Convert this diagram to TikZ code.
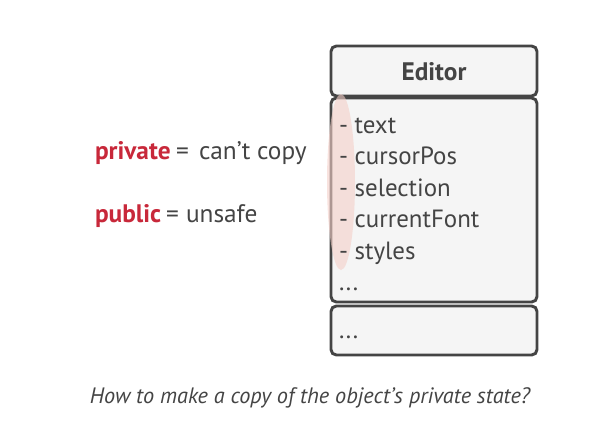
\documentclass[tikz,border=0pt]{standalone}
\usepackage{fontspec}
\setmainfont{PT Sans}
\definecolor{linegray}{HTML}{444444}
\definecolor{boxfill}{HTML}{F5F5F5}
\definecolor{hotred}{HTML}{C8283A}
\definecolor{blush}{HTML}{F4CFC8}
\begin{document}
\begin{tikzpicture}[x=0.75pt, y=-0.75pt]
\tikzset{inner sep=0pt, outer sep=0pt}
\tikzset{part/.style={draw=linegray, fill=boxfill, line width=2.2pt, rounded corners=4pt}}
\tikzset{field/.style={anchor=base west, text=linegray, font=\fontsize{18.7}{22}\selectfont}}
\tikzset{rule/.style={anchor=base west, text=linegray, font=\fontsize{19}{22}\selectfont}}

\useasboundingbox (0,0) rectangle (611,433);

% class box
\draw [part] (331,46) rectangle (537,96);
\draw [part] (331,98) rectangle (537,302);
\draw [part] (331,306) rectangle (537,355);

\node [anchor=base, text=linegray, font=\fontsize{19}{22}\selectfont\bfseries] (title) at (434,80) {Editor};

% private fields marker
\fill [blush, opacity=0.6] (341,182) ellipse [x radius=14, y radius=88];

\node [field] (f1) at (339,133) {- text};
\node [field] (f2) at (339,164.5) {- cursorPos};
\node [field] (f3) at (339,196) {- selection};
\node [field] (f4) at (339,227.5) {- currentFont};
\node [field] (f5) at (339,259) {- styles};
\node [field] (f6) at (339,290) {...};
\node [field] (m1) at (339,338) {...};

% left side
\node [rule, text=hotred, font=\fontsize{19}{22}\selectfont\bfseries] (priv) at (95,159) {private};
\node [rule] (eq1) at (176,159) {=};
\node [rule] (cant) at (199,159) {can’t copy};
\node [rule, text=hotred, font=\fontsize{19}{22}\selectfont\bfseries] (pub) at (95,222) {public};
\node [rule] (eq2) at (166,222) {=};
\node [rule] (unsafe) at (186,222) {unsafe};

% caption
\node [anchor=base, text=linegray, font=\fontsize{16.7}{20}\selectfont\itshape] (question) at (310,403) {How to make a copy of the object’s private state?};
\end{tikzpicture}
\end{document}
